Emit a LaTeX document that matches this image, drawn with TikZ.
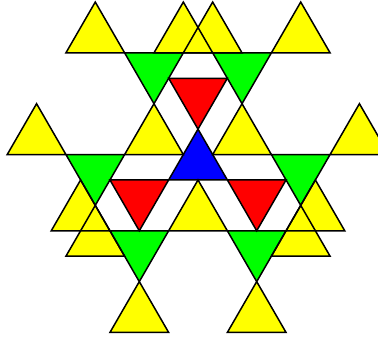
\documentclass[tikz,border=0pt]{standalone}
\definecolor{ylw}{RGB}{255,255,0}
\definecolor{grn}{RGB}{0,255,0}
\definecolor{rd}{RGB}{255,0,0}
\definecolor{blu}{RGB}{0,0,255}
\def\S{58.7}
\def\H{50.836}
% #1 style, #2 cx, #3 cy (units of S, screen y down), #4 = 1 up / -1 down
\newcommand\Tri[4]{\path[#1] ({(#2)*\S},{(#3)*\S-(#4)*2*\H/3}) -- ({(#2)*\S-\S/2},{(#3)*\S+(#4)*\H/3}) -- ({(#2)*\S+\S/2},{(#3)*\S+(#4)*\H/3}) -- cycle;}
\newcommand\Body{%
  \Tri{B}{0}{0}{1}
  \foreach \r in {0,120,240}{
    \begin{scope}[rotate=\r]
      \Tri{R}{0}{-1.1547}{-1}
      \Tri{G}{-0.75}{-1.5877}{-1}
      \Tri{G}{0.75}{-1.5877}{-1}
      \Tri{Y}{-1.75}{-2.165}{1}
      \Tri{Y}{-0.25}{-2.165}{1}
      \Tri{Y}{0.25}{-2.165}{1}
      \Tri{Y}{1.75}{-2.165}{1}
      \Tri{Y}{-0.75}{-0.433}{1}
    \end{scope}}}
\begin{document}
\begin{tikzpicture}[x=1pt,y=-1pt]
  \useasboundingbox (0,0) rectangle (378,338);
  \clip (0,0) rectangle (378,338);
  \fill[white] (0,0) rectangle (378,338);
  \begin{scope}[shift={(198,163)},
      Y/.style={fill=ylw}, G/.style={fill=grn}, R/.style={fill=rd}, B/.style={fill=blu}]
    \Body
  \end{scope}
  \begin{scope}[shift={(198,163)}, line width=1.5pt, line join=miter,
      Y/.style={draw=black}, G/.style={draw=black}, R/.style={draw=black}, B/.style={draw=black}]
    \Body
  \end{scope}
\end{tikzpicture}
\end{document}
